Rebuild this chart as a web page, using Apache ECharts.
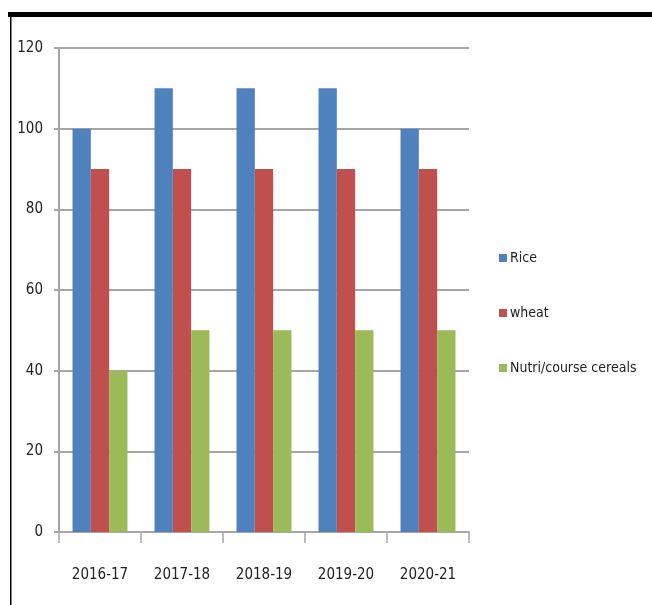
<!DOCTYPE html>
<html>
<head>
<meta charset="utf-8">
<script src="https://cdn.jsdelivr.net/npm/echarts@6/dist/echarts.min.js"></script>
<style>
html,body{margin:0;padding:0;background:#fff;}
#chart{width:652px;height:605px;}
</style>
</head>
<body>
<div id="chart"></div>
<script>
// Crop output by year (index values)
const years = ['2016-17', '2017-18', '2018-19', '2019-20', '2020-21'];
const rice = [100, 110, 110, 110, 100];
const wheat = [90, 90, 90, 90, 90];
const cereals = [40, 50, 50, 50, 50];
const seriesNames = ['Rice', 'wheat', 'Nutri/course cereals'];
const colors = ['#4F81BD', '#C0504D', '#9BBB59'];

const FONT = '"DejaVu Sans Condensed", "Liberation Sans", sans-serif';
const chart = echarts.init(document.getElementById('chart'));

const makeBar = (name, data, color) => ({
  name, type: 'bar', data,
  itemStyle: { color },
  barGap: '0%', barCategoryGap: '33%'
});

chart.setOption({
  animation: false,
  color: colors,
  textStyle: { fontFamily: FONT },
  grid: { left: 59, right: 183, top: 48, bottom: 73, containLabel: false },
  legend: {
    orient: 'vertical', left: 494, top: 246,
    itemWidth: 8, itemHeight: 8, itemGap: 41,
    icon: 'rect',
    textStyle: { fontFamily: FONT, fontSize: 14, color: '#222', padding: [0, 0, 0, -2] },
    data: seriesNames
  },
  xAxis: {
    type: 'category', data: years,
    axisLine: { lineStyle: { color: '#A6A6A6', width: 2 } },
    axisTick: { show: true, alignWithLabel: false, length: 11, lineStyle: { color: '#A6A6A6', width: 1.5 } },
    axisLabel: { fontFamily: FONT, fontSize: 15, color: '#222', margin: 36, interval: 0 }
  },
  yAxis: {
    type: 'value', min: 0, max: 120, interval: 20,
    axisLine: { show: true, lineStyle: { color: '#A6A6A6', width: 2 } },
    axisTick: { show: true, length: 5, lineStyle: { color: '#A6A6A6', width: 2 } },
    splitLine: { lineStyle: { color: '#A6A6A6', width: 2 } },
    axisLabel: { fontFamily: FONT, fontSize: 15, color: '#222', margin: 16 }
  },
  graphic: [
    { type: 'rect', shape: { x: 8, y: 12, width: 644, height: 5 }, style: { fill: '#000' } },
    { type: 'rect', shape: { x: 10, y: 16, width: 1.5, height: 589 }, style: { fill: '#000' } }
  ],
  series: [
    makeBar(seriesNames[0], rice, colors[0]),
    makeBar(seriesNames[1], wheat, colors[1]),
    makeBar(seriesNames[2], cereals, colors[2])
  ]
});
</script>
</body>
</html>
